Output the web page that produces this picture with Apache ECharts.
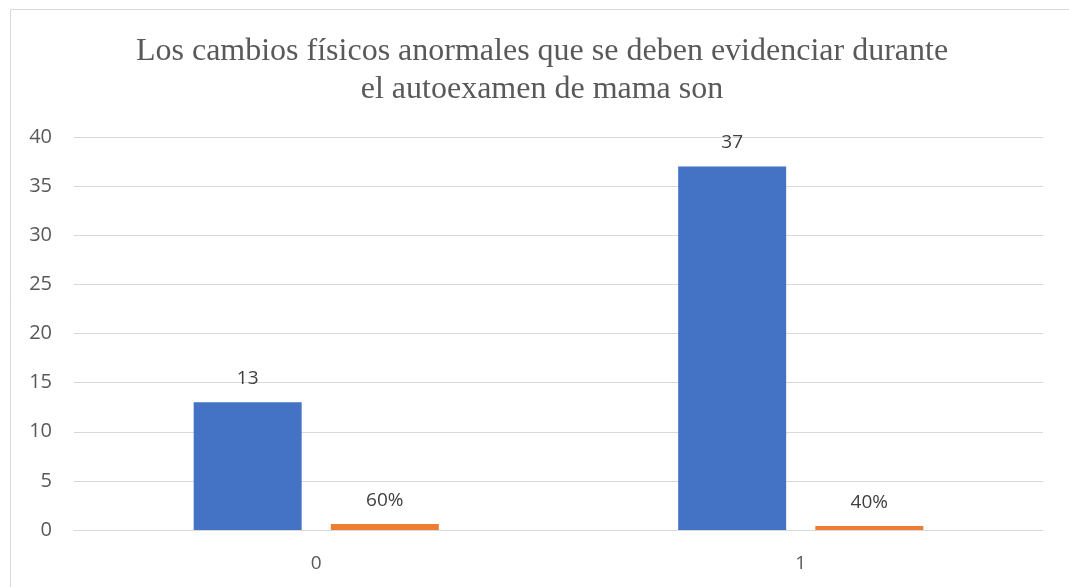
<!DOCTYPE html>
<html>
<head>
<meta charset="utf-8">
<script src="https://cdn.jsdelivr.net/npm/echarts@6/dist/echarts.min.js"></script>
<style>
    html, body { margin: 0; padding: 0; background: #fff; }
    #chart { width: 1069px; height: 587px; }
</style>
</head>
<body>
<div id="chart"></div>
<script>
    // datos
    var categories = ['0', '1'];
    var frecuencia = [13, 37];
    var porcentaje = [0.6, 0.4];          // altura de la barra naranja
    var porcentajeLabels = ['60%', '40%'];
    var yTicks = { min: 0, max: 40, interval: 5 };

    var chart = echarts.init(document.getElementById('chart'));
    chart.setOption({
        animation: false,
        title: {
            text: 'Los cambios físicos anormales que se deben evidenciar durante\nel autoexamen de mama son',
            left: 537,
            top: 28,
            textAlign: 'center',
            textStyle: {
                fontFamily: 'Liberation Serif',
                fontWeight: 'normal',
                fontSize: 32,
                lineHeight: 38,
                color: '#595959'
            }
        },
        graphic: [{
            type: 'rect',
            shape: { x: 10.5, y: 9.5, width: 1080, height: 600 },
            style: { fill: 'none', stroke: '#d9d9d9', lineWidth: 1 },
            silent: true
        }],
        grid: { left: 74, right: 26, top: 137, bottom: 57 },
        xAxis: {
            type: 'category',
            data: categories,
            axisLine: { lineStyle: { color: '#d9d9d9' } },
            axisTick: { show: false },
            axisLabel: { color: '#595959', fontFamily: 'Open Sans', fontSize: 19, margin: 24 }
        },
        yAxis: {
            type: 'value',
            min: yTicks.min,
            max: yTicks.max,
            interval: yTicks.interval,
            axisLine: { show: false },
            axisTick: { show: false },
            splitLine: { lineStyle: { color: '#d9d9d9' } },
            axisLabel: { color: '#595959', fontFamily: 'Open Sans', fontSize: 20, margin: 22 }
        },
        series: [
            {
                name: 'Frecuencia',
                type: 'bar',
                data: frecuencia,
                barWidth: 108,
                barGap: '27%',
                itemStyle: { color: '#4472C4' },
                label: {
                    show: true,
                    position: 'top',
                    distance: 14,
                    color: '#404040',
                    fontFamily: 'Open Sans',
                    fontSize: 19
                }
            },
            {
                name: 'Porcentaje',
                type: 'bar',
                data: porcentaje,
                barWidth: 108,
                itemStyle: { color: '#ED7D31' },
                label: {
                    show: true,
                    position: 'top',
                    distance: 14,
                    color: '#404040',
                    fontFamily: 'Open Sans',
                    fontSize: 19,
                    formatter: function (p) { return porcentajeLabels[p.dataIndex]; }
                }
            }
        ]
    });
</script>
</body>
</html>
